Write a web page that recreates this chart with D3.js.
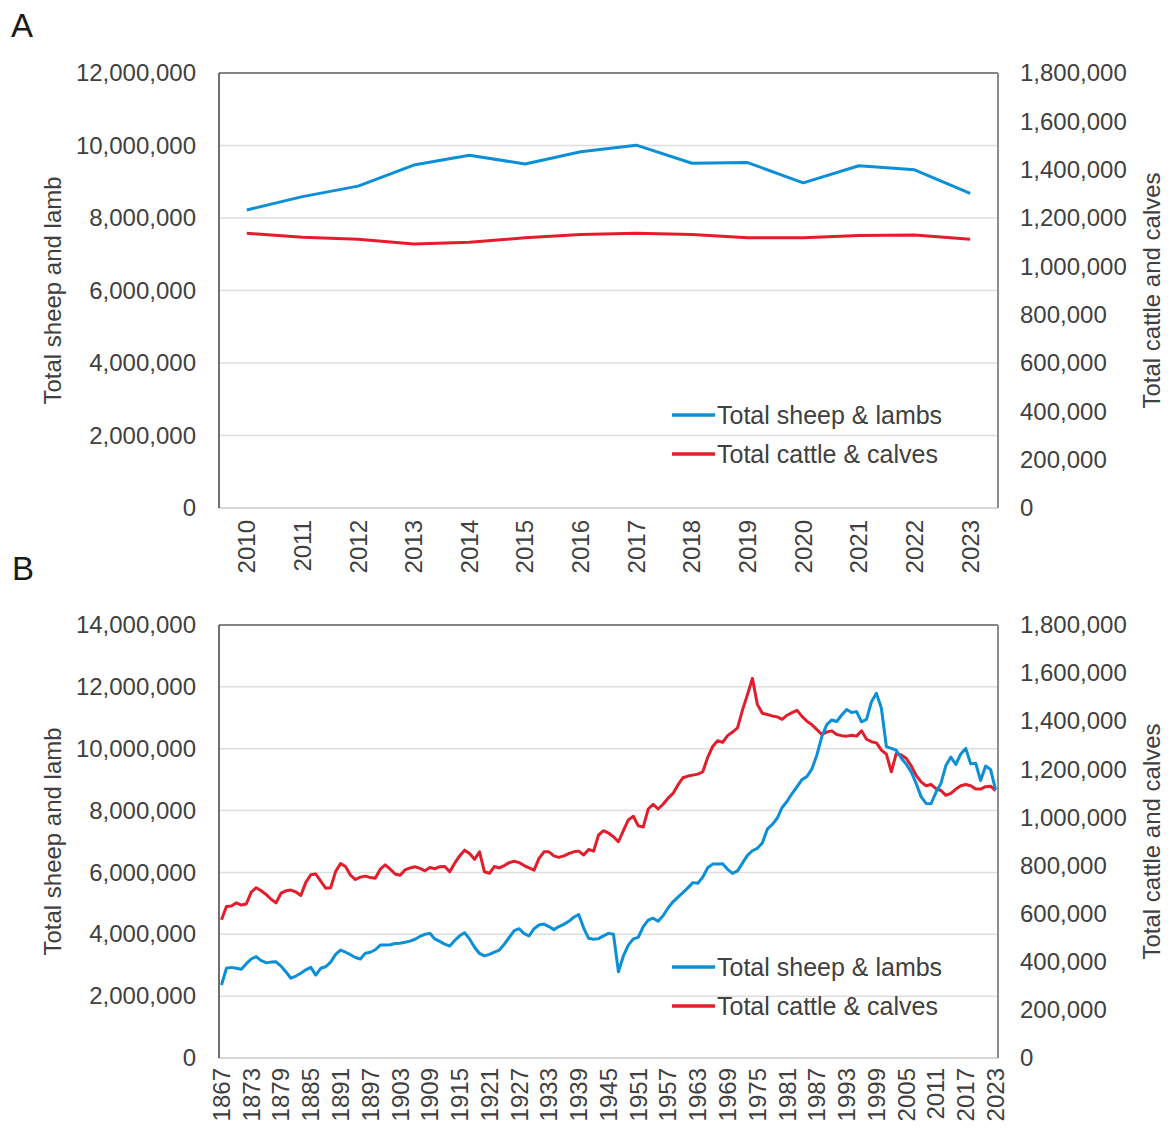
<!DOCTYPE html>
<html>
<head>
<meta charset="utf-8">
<script src="https://cdn.jsdelivr.net/npm/d3@7"></script>
<style>
  body { margin: 0; background: #fff; }
  text { font-family: "Liberation Sans", Arial, sans-serif; fill: #404040; }
</style>
</head>
<body>
<svg id="chart" width="1168" height="1131"></svg>
<script>
// ---- panel A data (2010-2023) ----
var yearsA = [2010, 2011, 2012, 2013, 2014, 2015, 2016, 2017, 2018, 2019, 2020, 2021, 2022, 2023];
var sheepA = [8220000, 8590000, 8880000, 9460000, 9730000, 9490000, 9830000,
              10010000, 9510000, 9530000, 8970000, 9440000, 9330000, 8680000];
var cattleA = [1137000, 1120000, 1112000, 1092000, 1100000, 1118000, 1132000,
               1137000, 1132000, 1118000, 1118000, 1128000, 1130000, 1112000];
var leftTicksA = [0, 2000000, 4000000, 6000000, 8000000, 10000000, 12000000];

// ---- panel B data (1867-2023), values in millions ----
var yearsB = d3.range(1867, 2024);
var ticksB = [1867, 1873, 1879, 1885, 1891, 1897, 1903, 1909, 1915, 1921, 1927, 1933, 1939, 1945,
              1951, 1957, 1963, 1969, 1975, 1981, 1987, 1993, 1999, 2005, 2011, 2017, 2023];
var sheepB = [
  2.36, 2.90, 2.93, 2.90, 2.87, 3.05, 3.20, 3.28, 3.15, 3.08,
  3.10, 3.11, 2.97, 2.78, 2.58, 2.65, 2.74, 2.85, 2.93, 2.68,
  2.90, 2.95, 3.10, 3.35, 3.49, 3.42, 3.34, 3.25, 3.20, 3.39,
  3.42, 3.50, 3.65, 3.65, 3.66, 3.70, 3.71, 3.74, 3.78, 3.84,
  3.93, 4.00, 4.03, 3.85, 3.77, 3.68, 3.62, 3.80, 3.95, 4.05,
  3.85, 3.58, 3.38, 3.30, 3.35, 3.42, 3.49, 3.68, 3.90, 4.12,
  4.18, 4.02, 3.95, 4.18, 4.30, 4.33, 4.25, 4.15, 4.25, 4.32,
  4.42, 4.55, 4.64, 4.20, 3.87, 3.84, 3.86, 3.95, 4.03, 4.00,
  2.79, 3.30, 3.65, 3.85, 3.90, 4.25, 4.46, 4.52, 4.42, 4.60,
  4.85, 5.05, 5.20, 5.35, 5.50, 5.67, 5.65, 5.85, 6.15, 6.27,
  6.27, 6.28, 6.10, 5.97, 6.05, 6.30, 6.55, 6.70, 6.78, 6.95,
  7.40, 7.55, 7.75, 8.10, 8.30, 8.55, 8.77, 9.00, 9.10, 9.35,
  9.80, 10.40, 10.78, 10.93, 10.88, 11.09, 11.27, 11.17, 11.20, 10.87,
  10.95, 11.52, 11.79, 11.31, 10.07, 10.01, 9.95, 9.70, 9.50, 9.25,
  8.88, 8.45, 8.23, 8.22, 8.59, 8.88, 9.46, 9.73, 9.49, 9.83,
  10.01, 9.51, 9.53, 8.97, 9.44, 9.33, 8.68
];
var cattleB = [
  0.575, 0.630, 0.632, 0.645, 0.636, 0.640, 0.690, 0.708, 0.695, 0.680,
  0.660, 0.645, 0.685, 0.695, 0.698, 0.690, 0.676, 0.730, 0.762, 0.765,
  0.735, 0.706, 0.708, 0.775, 0.808, 0.796, 0.760, 0.742, 0.752, 0.756,
  0.750, 0.747, 0.785, 0.803, 0.785, 0.765, 0.760, 0.782, 0.790, 0.795,
  0.788, 0.778, 0.792, 0.787, 0.795, 0.796, 0.774, 0.810, 0.840, 0.864,
  0.850, 0.826, 0.857, 0.774, 0.768, 0.796, 0.790, 0.800, 0.812, 0.818,
  0.812, 0.800, 0.790, 0.781, 0.830, 0.857, 0.857, 0.840, 0.834, 0.840,
  0.850, 0.857, 0.860, 0.844, 0.867, 0.860, 0.927, 0.945, 0.935, 0.920,
  0.899, 0.945, 0.990, 1.005, 0.965, 0.960, 1.035, 1.055, 1.035, 1.055,
  1.080, 1.100, 1.135, 1.165, 1.172, 1.176, 1.180, 1.190, 1.250, 1.295,
  1.319, 1.312, 1.340, 1.355, 1.372, 1.446, 1.510, 1.578, 1.470, 1.433,
  1.428, 1.422, 1.418, 1.408, 1.425, 1.436, 1.445, 1.420, 1.400, 1.385,
  1.365, 1.345, 1.355, 1.360, 1.345, 1.340, 1.338, 1.342, 1.338, 1.360,
  1.325, 1.315, 1.310, 1.280, 1.263, 1.190, 1.266, 1.260, 1.246, 1.215,
  1.175, 1.148, 1.132, 1.137, 1.120, 1.112, 1.092, 1.100, 1.118, 1.132,
  1.137, 1.132, 1.118, 1.118, 1.128, 1.130, 1.112
];
var leftTicksB = [0, 2000000, 4000000, 6000000, 8000000, 10000000, 12000000, 14000000];
var rightTicks = [0, 200000, 400000, 600000, 800000, 1000000, 1200000, 1400000, 1600000, 1800000];

var seriesNames = ["Total sheep & lambs", "Total cattle & calves"];
var colors = ["#0b8fd6", "#e31d2b"];

var svg = d3.select("#chart");
var fmt = d3.format(",");

function drawPanel(p) {
    var left = 219, right = 998;
    var g = svg.append("g");

    var x = d3.scaleBand().domain(p.years).range([left, right]);
    var yL = d3.scaleLinear().domain([0, p.leftMax]).range([p.bottom, p.top]);
    var yR = d3.scaleLinear().domain([0, 1800000]).range([p.bottom, p.top]);

    // gridlines from left axis
    g.selectAll("line.grid")
        .data(p.leftTicks.filter(function (d) { return d > 0 && d < p.leftMax; }))
        .enter().append("line")
            .attr("x1", left).attr("x2", right)
            .attr("y1", function (d) { return yL(d); })
            .attr("y2", function (d) { return yL(d); })
            .style("stroke", "#dedede")
            .style("stroke-width", 1.5);

    // frame
    g.append("line").attr("x1", left).attr("x2", right).attr("y1", p.bottom).attr("y2", p.bottom)
        .style("stroke", "#d6d6d6").style("stroke-width", 2);
    g.append("line").attr("x1", left).attr("x2", right).attr("y1", p.top).attr("y2", p.top)
        .style("stroke", "#858585").style("stroke-width", 2);
    g.append("line").attr("x1", right).attr("x2", right).attr("y1", p.top).attr("y2", p.bottom)
        .style("stroke", "#8c8c8c").style("stroke-width", 2);
    g.append("line").attr("x1", left).attr("x2", left).attr("y1", p.top).attr("y2", p.bottom)
        .style("stroke", "#404040").style("stroke-width", 1.5);

    // axes
    var axL = g.append("g").attr("transform", "translate(" + left + ",0)")
        .call(d3.axisLeft(yL).tickValues(p.leftTicks).tickFormat(fmt).tickSize(0).tickPadding(23));
    var axR = g.append("g").attr("transform", "translate(" + right + ",0)")
        .call(d3.axisRight(yR).tickValues(rightTicks).tickFormat(fmt).tickSize(0).tickPadding(22));
    var axB = g.append("g").attr("transform", "translate(0," + p.bottom + ")")
        .call(d3.axisBottom(x).tickValues(p.ticks).tickSize(0));

    [axL, axR, axB].forEach(function (ax) {
        ax.select(".domain").remove();
        ax.selectAll("text")
            .style("font-family", "'Liberation Sans', Arial, sans-serif")
            .style("font-size", "24px")
            .style("fill", "#404040");
    });
    axB.selectAll("text")
        .attr("y", 0).attr("x", 0).attr("dy", "0.35em")
        .attr("text-anchor", "end")
        .attr("transform", "translate(0," + p.labelGap + ") rotate(-90)");

    // axis titles
    var mid = (p.top + p.bottom) / 2;
    g.append("text")
        .attr("transform", "translate(53," + mid + ") rotate(-90)")
        .attr("text-anchor", "middle").attr("dy", "0.35em")
        .style("font-size", "24px")
        .text("Total sheep and lamb");
    g.append("text")
        .attr("transform", "translate(1152," + mid + ") rotate(-90)")
        .attr("text-anchor", "middle").attr("dy", "0.35em")
        .style("font-size", "24px")
        .text("Total cattle and calves");

    // series
    var cx = function (d, i) { return x(p.years[i]) + x.bandwidth() / 2; };
    var lineL = d3.line().x(cx).y(function (d) { return yL(d); });
    var lineR = d3.line().x(cx).y(function (d) { return yR(d); });

    g.append("path").datum(p.cattle).attr("d", lineR)
        .style("fill", "none").style("stroke", colors[1])
        .style("stroke-width", 3).style("stroke-linejoin", "round");
    g.append("path").datum(p.sheep).attr("d", lineL)
        .style("fill", "none").style("stroke", colors[0])
        .style("stroke-width", 3).style("stroke-linejoin", "round");

    // legend
    var lg = g.selectAll("g.legend")
        .data(seriesNames)
        .enter().append("g")
            .attr("transform", function (d, i) { return "translate(672," + (p.legendY + i * 39) + ")"; });
    lg.append("line")
        .attr("x1", 0).attr("x2", 43).attr("y1", 0).attr("y2", 0)
        .style("stroke", function (d, i) { return colors[i]; })
        .style("stroke-width", 3.5);
    lg.append("text")
        .attr("x", 45).attr("dy", "0.35em")
        .style("font-size", "25px")
        .text(function (d) { return d; });

    // panel letter
    svg.append("text")
        .attr("x", p.letterX).attr("y", p.letterY)
        .style("font-size", "33px").style("fill", "#1a1a1a")
        .text(p.letter);
}

drawPanel({
    letter: "A", letterX: 11, letterY: 37,
    years: yearsA, ticks: yearsA,
    sheep: sheepA, cattle: cattleA,
    leftMax: 12000000, leftTicks: leftTicksA,
    top: 73, bottom: 508, labelGap: 12, legendY: 415
});

drawPanel({
    letter: "B", letterX: 12, letterY: 580,
    years: yearsB, ticks: ticksB,
    sheep: sheepB.map(function (v) { return v * 1e6; }),
    cattle: cattleB.map(function (v) { return v * 1e6; }),
    leftMax: 14000000, leftTicks: leftTicksB,
    top: 625, bottom: 1058, labelGap: 10, legendY: 967
});
</script>
</body>
</html>
